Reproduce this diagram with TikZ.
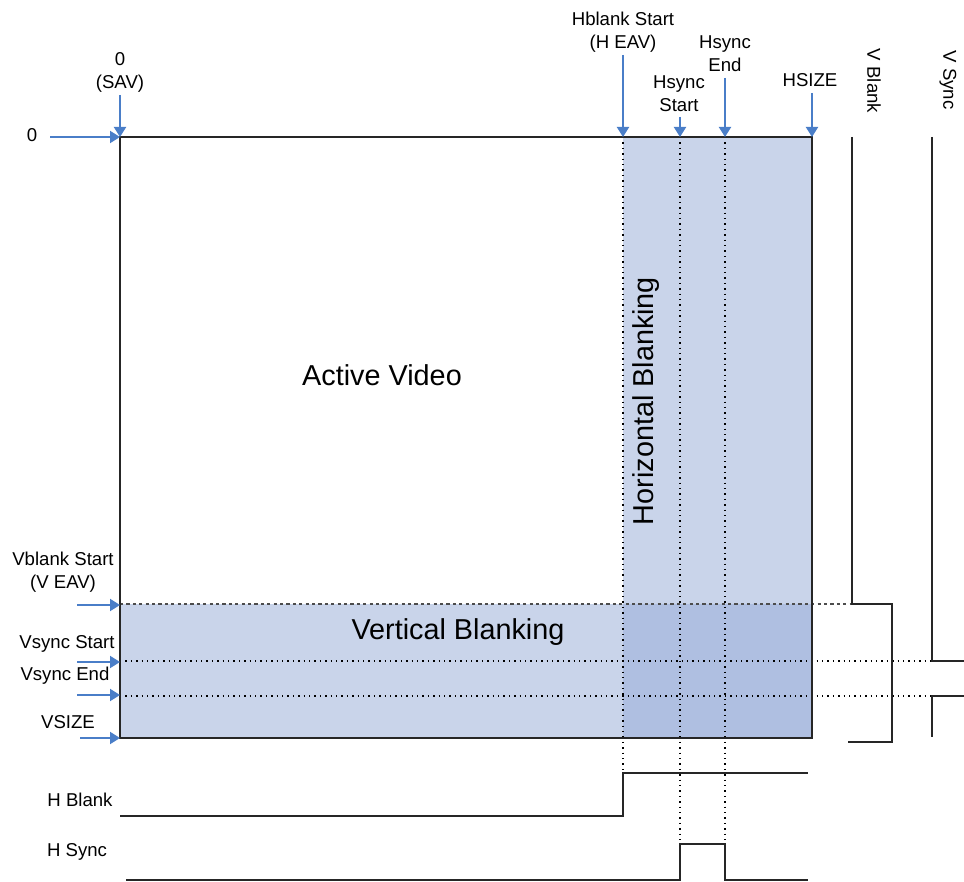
\documentclass[tikz,border=0pt]{standalone}
\usepackage{fontspec}
\setmainfont{Liberation Sans}
\usetikzlibrary{arrows.meta}
\definecolor{markblue}{RGB}{74,126,200}
\definecolor{blanklight}{RGB}{201,212,234}
\definecolor{blankdark}{RGB}{175,191,225}
\tikzset{
  mark arrow/.style={-{Triangle[length=5pt,width=6pt]}, line width=1pt, markblue},
  small label/.style={align=center, inner sep=0pt, font=\fontsize{9.3}{11.5}\selectfont},
  big label/.style={inner sep=0pt, font=\fontsize{14.4}{17}\selectfont},
  sig/.style={line width=1.1pt, black!85},
  guide/.style={dotted, line width=0.7pt},
}
% arrow coming down onto the top edge: name, x, start y
\newcommand{\hmark}[3]{
  \coordinate (#1) at (#2,137);
  \coordinate (#1s) at (#2,#3);
  \draw[mark arrow] (#1s)--(#1);
}
% arrow coming in from the left edge: name, y, start x
\newcommand{\vmark}[3]{
  \coordinate (#1) at (120,#2);
  \coordinate (#1s) at (#3,#2);
  \draw[mark arrow] (#1s)--(#1);
}
\begin{document}
\begin{tikzpicture}[x=0.5pt,y=-0.5pt]
  \useasboundingbox (0,0) rectangle (964,882);

  % Blanking areas
  % ==============
  \fill[blanklight] (623,137) rectangle (812,738);
  \fill[blanklight] (120,604) rectangle (812,738);
  \fill[blankdark] (623,604) rectangle (812,738);

  % Frame corners
  \coordinate (tl) at (120,137);
  \coordinate (tr) at (812,137);
  \coordinate (br) at (812,738);
  \coordinate (bl) at (120,738);

  % Guides
  % ------
  \foreach \x/\y in {623/773, 680/844, 725/844}
  \draw[guide] (\x,137)--(\x,\y);

  \draw[dashed, dash pattern=on 1.6pt off 1.6pt, line width=0.7pt, black!70] (120,604)--(852,604);
  \foreach \y in {661, 696}
  \draw[guide] (120,\y)--(932,\y);

  \draw[line width=1pt, black!85] (tl)--(tr)--(br)--(bl)--cycle;

  % Texts in the frame
  \node[big label] (active) at (382,375) {Active Video};
  \node[big label] (vblanking) at (458,632) {Vertical Blanking};
  \node[big label, rotate=90] (hblanking) at (646,401) {Horizontal Blanking};

  % Markers on top
  % ==============
  \hmark{sav}{120}{95}
  \hmark{heav}{623}{55}
  \hmark{hss}{680}{117}
  \hmark{hse}{725}{78}
  \hmark{hsize}{812}{93}

  \node[small label] (savl) at (120,72) {0\\(SAV)};
  \node[small label] (heavl) at (623,32) {Hblank Start\\(H EAV)};
  \node[small label] (hssl) at (679,94) {Hsync\\Start};
  \node[small label] (hsel) at (725,54) {Hsync\\End};
  \node[small label] (hsizel) at (810,80) {HSIZE};

  % Markers on the left
  % ===================
  \vmark{zero}{137}{50}
  \vmark{veav}{605}{77}
  \vmark{vss}{662}{77}
  \vmark{vse}{695}{77}
  \vmark{vsize}{738}{80}

  \node[small label] (zerol) at (32,135) {0};
  \node[small label] (veavl) at (63,572) {Vblank Start\\(V EAV)};
  \node[small label] (vssl) at (67,644) {Vsync Start};
  \node[small label] (vsel) at (65,676) {Vsync End};
  \node[small label] (vsizel) at (68,722) {VSIZE};

  % Signals
  % =======

  % V Blank
  \draw[sig] (852,137)--(852,604)--(892,604)--(892,742)--(848,742);
  \node[small label, rotate=-90] (vbl) at (874,81) {V Blank};

  % V Sync
  \draw[sig] (932,137)--(932,661)--(964,661);
  \draw[sig] (964,696)--(932,696)--(932,737);
  \node[small label, rotate=-90] (vsl) at (948,80) {V Sync};

  % H Blank
  \draw[sig] (120,816)--(623,816)--(623,773)--(808,773);
  \node[small label] (hbl) at (80,800) {H Blank};

  % H Sync
  \draw[sig] (126,880)--(680,880)--(680,844)--(725,844)--(725,880)--(808,880);
  \node[small label] (hsl) at (77,852) {H Sync};

\end{tikzpicture}
\end{document}
